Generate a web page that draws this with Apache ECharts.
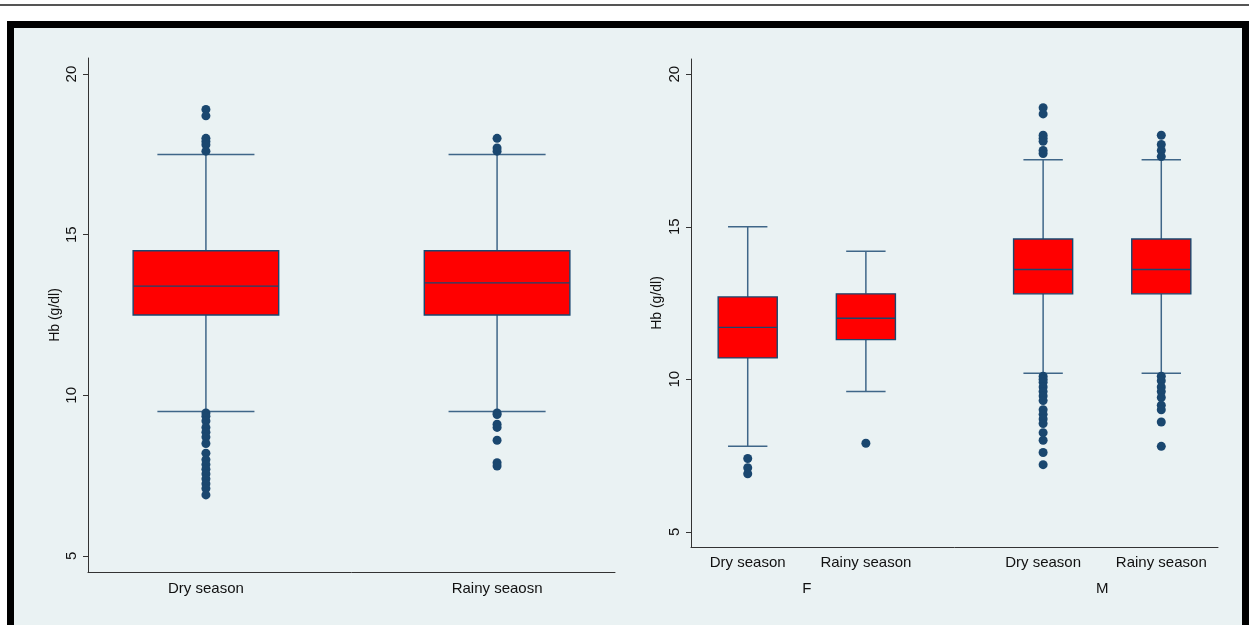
<!DOCTYPE html>
<html>
<head>
<meta charset="utf-8">
<script src="https://cdn.jsdelivr.net/npm/echarts@6/dist/echarts.min.js"></script>
<style>
  html, body { margin:0; padding:0; background:#ffffff; width:1249px; height:625px; overflow:hidden; }
  #topline { position:absolute; left:0; top:4px; width:1249px; height:2px; background:#555; }
  #frame { position:absolute; left:7px; top:21px; width:1228px; height:640px; border:7px solid #000; background:#eaf2f3; }
  #chart { position:absolute; left:0; top:0; width:1249px; height:625px; }
</style>
</head>
<body>
<div id="topline"></div>
<div id="frame"></div>
<div id="chart"></div>
<script>
// ---- Data ----
const yTicks = [5, 10, 15, 20];
const leftCategories = ['Dry season', 'Rainy seaosn'];
// [lower whisker, Q1, median, Q3, upper whisker]
const leftDryBox   = [9.5, 12.5, 13.4, 14.5, 17.5];
const leftRainyBox = [9.5, 12.5, 13.5, 14.5, 17.5];
const leftDryOutliers = [18.9, 18.7, 18.0, 17.9, 17.8, 17.6,
  9.45, 9.35, 9.2, 9.0, 8.85, 8.7, 8.5, 8.2, 8.0, 7.85, 7.7, 7.55, 7.4, 7.25, 7.1, 6.9];
const leftRainyOutliers = [18.0, 17.7, 17.6, 9.45, 9.4, 9.1, 9.0, 8.6, 7.9, 7.8];

const rightCategories = ['Dry season', 'Rainy season'];
const rightGroups = ['F', 'M'];
const fDryBox   = [7.8, 10.7, 11.7, 12.7, 15.0];
const fRainyBox = [9.6, 11.3, 12.0, 12.8, 14.2];
const mDryBox   = [10.2, 12.8, 13.6, 14.6, 17.2];
const mRainyBox = [10.2, 12.8, 13.6, 14.6, 17.2];
const fDryOutliers = [7.4, 7.1, 6.9];
const fRainyOutliers = [7.9];
const mDryOutliers = [18.9, 18.7, 18.0, 17.9, 17.8, 17.5, 17.4,
  10.1, 10.0, 9.9, 9.75, 9.6, 9.45, 9.3, 9.0, 8.85, 8.7, 8.55, 8.25, 8.0, 7.6, 7.2];
const mRainyOutliers = [18.0, 17.7, 17.5, 17.3, 10.1, 9.95, 9.75, 9.6, 9.4, 9.15, 9.0, 8.6, 7.8];

// ---- Build ----
const NAVY = '#1a476f';
const WHISK = '#3f6688';
const leftBoxes = [leftDryBox, leftRainyBox].map((b, i) => [i + 1].concat(b));
const leftOut = [];
[leftDryOutliers, leftRainyOutliers].forEach((arr, i) => arr.forEach(v => leftOut.push([i + 1, v])));

const slotX = (g, i) => 1 + g * 2.5 + i;
const rightBoxSets = [[fDryBox, fRainyBox], [mDryBox, mRainyBox]];
const rightOutSets = [[fDryOutliers, fRainyOutliers], [mDryOutliers, mRainyOutliers]];
const rightBoxes = [], rightOut = [], rightLabelMap = {}, groupLabelMap = {};
rightBoxSets.forEach((set, g) => {
  set.forEach((b, i) => {
    const x = slotX(g, i);
    rightBoxes.push([x].concat(b));
    rightLabelMap[x] = rightCategories[i];
    rightOutSets[g][i].forEach(v => rightOut.push([x, v]));
  });
  groupLabelMap[slotX(g, 0.5)] = rightGroups[g];
});

function renderBox(params, api) {
  const x = api.value(0);
  const lo = api.coord([x, api.value(1)]);
  const q1 = api.coord([x, api.value(2)]);
  const md = api.coord([x, api.value(3)]);
  const q3 = api.coord([x, api.value(4)]);
  const hi = api.coord([x, api.value(5)]);
  const w = api.size([0.5, 0])[0];
  const cw = api.size([1 / 3, 0])[0];
  const cx = lo[0];
  const ls = { stroke: WHISK, lineWidth: 1.5 };
  return {
    type: 'group',
    children: [
      { type: 'line', shape: { x1: cx, y1: q1[1], x2: cx, y2: lo[1] }, style: ls },
      { type: 'line', shape: { x1: cx, y1: q3[1], x2: cx, y2: hi[1] }, style: ls },
      { type: 'line', shape: { x1: cx - cw / 2, y1: lo[1], x2: cx + cw / 2, y2: lo[1] }, style: ls },
      { type: 'line', shape: { x1: cx - cw / 2, y1: hi[1], x2: cx + cw / 2, y2: hi[1] }, style: ls },
      { type: 'rect', shape: { x: cx - w / 2, y: q3[1], width: w, height: q1[1] - q3[1] },
        style: { fill: '#ff0000', stroke: NAVY, lineWidth: 1.4 } },
      { type: 'line', shape: { x1: cx - w / 2, y1: md[1], x2: cx + w / 2, y2: md[1] },
        style: { stroke: NAVY, lineWidth: 1.4 } }
    ]
  };
}

const FONT = 'Liberation Sans, Arial, sans-serif';
function yAxis(gridIndex, gap) {
  return {
    type: 'value', gridIndex, min: 4.5, max: 20.5,
    axisLabel: { customValues: yTicks, rotate: 90, color: '#111', fontSize: 15, fontFamily: FONT, margin: 9 },
    axisTick: { customValues: yTicks, show: true, length: 5, lineStyle: { color: '#333' } },
    axisLine: { show: true, lineStyle: { color: '#333', width: 1 } },
    splitLine: { show: false },
    name: 'Hb (g/dl)', nameLocation: 'middle', nameRotate: 90, nameGap: gap,
    nameTextStyle: { color: '#111', fontSize: 14, fontFamily: FONT }
  };
}

const chart = echarts.init(document.getElementById('chart'), null, { renderer: 'canvas' });
chart.setOption({
  backgroundColor: 'transparent',
  animation: false,
  grid: [
    { left: 88, top: 58, right: 634, bottom: 53 },
    { left: 691, top: 59, right: 31, bottom: 78 }
  ],
  xAxis: [
    { type: 'value', gridIndex: 0, min: 0.595, max: 2.405,
      axisLine: { show: true, onZero: false, lineStyle: { color: '#333' } },
      axisTick: { show: false }, splitLine: { show: false },
      axisLabel: { customValues: [1, 2], formatter: v => leftCategories[Math.round(v) - 1],
        color: '#111', fontSize: 15, fontFamily: FONT, margin: 9 } },
    { type: 'value', gridIndex: 1, min: 0.52, max: 4.98,
      axisLine: { show: true, onZero: false, lineStyle: { color: '#333' } },
      axisTick: { show: false }, splitLine: { show: false },
      axisLabel: { customValues: Object.keys(rightLabelMap).map(Number), formatter: v => rightLabelMap[v],
        color: '#111', fontSize: 15, fontFamily: FONT, margin: 8 } },
    { type: 'value', gridIndex: 1, min: 0.52, max: 4.98, position: 'bottom', offset: 26,
      axisLine: { show: false }, axisTick: { show: false }, splitLine: { show: false },
      axisLabel: { customValues: Object.keys(groupLabelMap).map(Number), formatter: v => groupLabelMap[v],
        color: '#111', fontSize: 15, fontFamily: FONT, margin: 8 } }
  ],
  yAxis: [yAxis(0, 26), yAxis(1, 27)],
  series: [
    { type: 'custom', xAxisIndex: 0, yAxisIndex: 0, renderItem: renderBox, data: leftBoxes, z: 2 },
    { type: 'scatter', xAxisIndex: 0, yAxisIndex: 0, data: leftOut, symbolSize: 9,
      itemStyle: { color: NAVY, opacity: 1 }, z: 3 },
    { type: 'custom', xAxisIndex: 1, yAxisIndex: 1, renderItem: renderBox, data: rightBoxes, z: 2 },
    { type: 'scatter', xAxisIndex: 1, yAxisIndex: 1, data: rightOut, symbolSize: 9,
      itemStyle: { color: NAVY, opacity: 1 }, z: 3 }
  ]
});
</script>
</body>
</html>
